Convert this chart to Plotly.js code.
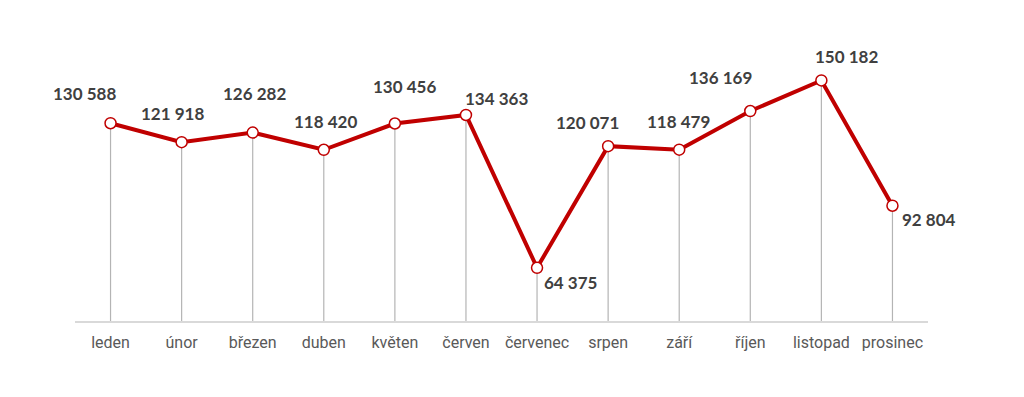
<!DOCTYPE html>
<html>
<head>
<meta charset="utf-8">
<script src="https://cdn.plot.ly/plotly-3.0.1.min.js"></script>
<style>html,body{margin:0;padding:0;background:#fff;}#chart{width:1024px;height:397px;}</style>
</head>
<body>
<div id="chart"></div>
<script>
const months = ["leden","únor","březen","duben","květen","červen","červenec","srpen","září","říjen","listopad","prosinec"];
const values = [130588,121918,126282,118420,130456,134363,64375,120071,118479,136169,150182,92804];
const labels = ["130 588","121 918","126 282","118 420","130 456","134 363","64 375","120 071","118 479","136 169","150 182","92 804"];

const baseY = 40000;
const labelDx = [-26,-9,2,2,10,31,33,-21,-1,-30,25,37];
const labelDy = [-30,-29,-39,-28,-37,-16,15,-24,-28,-34,-24,14];

const drop = {
  x: months, y: values, type: 'scatter', mode: 'markers',
  marker: {size: 0.1, color: 'rgba(0,0,0,0)'},
  error_y: {type: 'data', symmetric: false, array: values.map(() => 0),
            arrayminus: values.map(v => v - baseY), color: '#b4b4b4', thickness: 1.2, width: 0},
  hoverinfo: 'skip', showlegend: false
};
const line = {
  x: months, y: values, type: 'scatter', mode: 'lines+markers',
  line: {color: '#c00000', width: 4},
  marker: {size: 11, color: '#ffffff', line: {color: '#c00000', width: 1.5}},
  showlegend: false
};

const annotations = months.map((m, i) => ({
  x: m, y: values[i], xref: 'x', yref: 'y', text: labels[i], showarrow: false,
  xshift: labelDx[i], yshift: -labelDy[i],
  font: {family: 'Lato, sans-serif', size: 17, color: '#404040', weight: 'bold'}
}));

const layout = {
  width: 1024, height: 397,
  margin: {l: 75, r: 96, t: 59, b: 76},
  paper_bgcolor: '#ffffff', plot_bgcolor: '#ffffff',
  xaxis: {type: 'category', range: [-0.5, 11.5], showgrid: false, zeroline: false,
          showline: true, linecolor: '#d9d9d9', linewidth: 1.5, ticks: '',
          tickfont: {family: 'Roboto, sans-serif', size: 16, color: '#595959'}, ticklabelstandoff: 6},
  yaxis: {range: [baseY, 160000], showgrid: false, zeroline: false, showline: false,
          showticklabels: false, ticks: ''},
  annotations: annotations,
  showlegend: false
};
Plotly.newPlot('chart', [drop, line], layout, {displayModeBar: false, staticPlot: true});
</script>
</body>
</html>
